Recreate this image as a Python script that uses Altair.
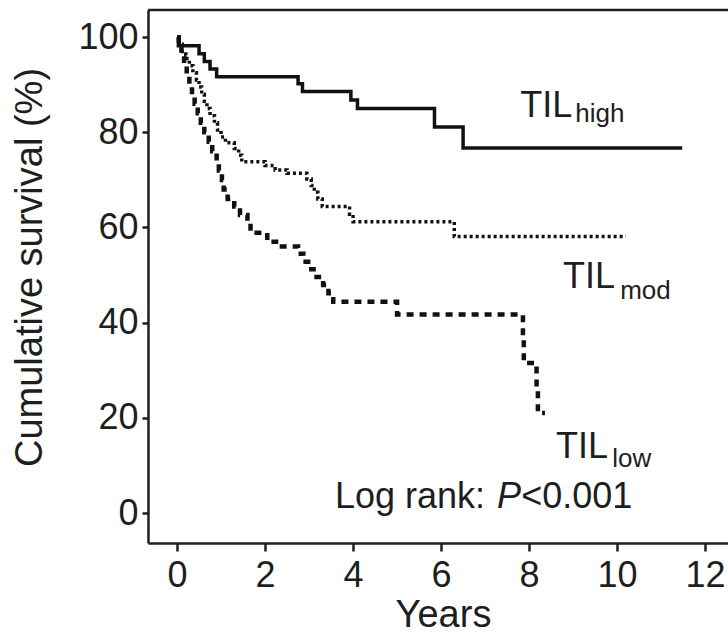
import altair as alt
import pandas as pd

# ---- data ----
high_t = [0, 0.03, 0.5, 0.62, 0.75, 0.9, 2.75, 2.85, 3.95, 4.1, 5.85, 6.5, 11.48]
high_s = [100, 98.2, 96.5, 94.9, 93.3, 91.7, 90.2, 88.6, 86.8, 85.0, 81.1, 76.7, 76.7]

mod_t = [0, 0.05, 0.12, 0.2, 0.28, 0.36, 0.44, 0.5, 0.56, 0.62, 0.68, 0.75, 0.85,
         0.92, 1.0, 1.1, 1.3, 1.4, 1.47, 2.0, 2.23, 2.5, 2.95, 3.05, 3.12, 3.2,
         3.3, 3.92, 4.0, 6.3, 10.2]
mod_s = [100, 98.5, 97.0, 95.5, 94.0, 92.5, 91.0, 89.5, 88.0, 86.5, 85.0, 83.5, 82.0,
         80.5, 79.0, 77.8, 76.6, 75.2, 73.8, 73.0, 72.1, 71.4, 70.2, 68.8, 67.4, 66.0,
         64.4, 62.8, 61.2, 58.1, 58.1]

low_t = [0, 0.04, 0.1, 0.16, 0.22, 0.28, 0.34, 0.4, 0.47, 0.54, 0.62, 0.72, 0.8,
         0.9, 0.95, 1.02, 1.06, 1.15, 1.3, 1.43, 1.6, 1.67, 2.05, 2.25, 2.75, 2.87,
         3.05, 3.17, 3.32, 3.44, 3.55, 5.0, 7.86, 7.88, 8.17, 8.2, 8.36]
low_s = [100, 98, 96, 94, 92, 90, 88, 86, 84, 82, 80, 78, 76,
         74, 72, 70, 68, 66, 64.4, 62.6, 60.9, 58.9, 57.0, 56.0, 54.5, 52.8,
         51.2, 49.6, 47.9, 46.2, 44.4, 41.7, 36.6, 31.5, 26.3, 21.0, 21.0]

x_ticks = [0, 2, 4, 6, 8, 10, 12]
y_ticks = [0, 20, 40, 60, 80, 100]

# annotations: text, x (years), y (%), size, style
ann_text = ["TIL", "high", "TIL", "mod", "TIL", "low", "Log rank: ", "P", "<0.001"]
ann_x = [7.8, 9.05, 8.77, 10.07, 8.61, 9.89, 3.59, 7.27, 7.82]
ann_y = [83.2, 82.1, 47.3, 45.0, 11.6, 9.7, 1.05, 1.05, 1.05]
ann_size = [36, 26, 36, 26, 36, 26, 36, 36, 36]
ann_style = ["normal", "normal", "normal", "normal", "normal", "normal", "normal", "italic", "normal"]

FONT = "Liberation Sans"
INK = "#1e1e1e"

def series(name, t, s):
    return pd.DataFrame({"group": name, "t": t, "s": s, "i": range(len(t))})

df = pd.concat([series("high", high_t, high_s),
                series("mod", mod_t, mod_s),
                series("low", low_t, low_s)], ignore_index=True)

xscale = alt.Scale(domain=[-0.66, 12.52], nice=False, zero=False)
yscale = alt.Scale(domain=[-6.3, 105.7], nice=False, zero=False)

X = alt.X("t:Q", scale=xscale,
          axis=alt.Axis(values=x_ticks, title="Years", titleX=295, titleY=83,
                        titleBaseline="alphabetic", titleAlign="center",
                        tickSize=8, labelPadding=7))
Y = alt.Y("s:Q", scale=yscale,
          axis=alt.Axis(values=y_ticks, title="Cumulative survival (%)",
                        titleX=-118, titleY=257, titleAngle=-90,
                        titleBaseline="middle", titleAlign="center",
                        tickSize=6, labelPadding=4))

base = alt.Chart(df)

def curve(name, dash, width):
    return base.transform_filter(alt.datum.group == name).mark_line(
        interpolate="step-after", color="#111111", strokeWidth=width,
        strokeDash=dash, strokeCap="butt"
    ).encode(x=X, y=Y, order="i:Q")

high = curve("high", [1, 0], 3.5)
mod = curve("mod", [3, 3], 3.5)
low = curve("low", [7, 6], 4.5)

ann = pd.DataFrame({"text": ann_text, "t": ann_x, "s": ann_y,
                    "size": ann_size, "style": ann_style})

def text_layer(style):
    sub = ann[ann["style"] == style]
    return alt.Chart(sub).mark_text(
        font=FONT, align="left", baseline="alphabetic", color=INK,
        fontStyle=style
    ).encode(
        x=alt.X("t:Q", scale=xscale),
        y=alt.Y("s:Q", scale=yscale),
        text="text:N",
        size=alt.Size("size:Q", scale=None, legend=None),
    )

# top frame line
top = alt.Chart(pd.DataFrame({"a": [0]})).mark_rule(
    color=INK, strokeWidth=2.5
).encode(x=alt.value(0), x2=alt.value(580), y=alt.value(0))

chart = alt.layer(high, mod, low, text_layer("normal"), text_layer("italic"), top).properties(
    width=580, height=533,
    autosize=alt.AutoSizeParams(type="none"),
    padding={"left": 148, "top": 10, "right": 0, "bottom": 90},
).configure_view(stroke=None).configure_axis(
    grid=False, labelFont=FONT, titleFont=FONT, labelFontSize=36,
    titleFontSize=38, titleFontWeight="normal", labelColor=INK, titleColor=INK,
    domainColor=INK, domainWidth=2.5, tickColor=INK, tickWidth=2.5,
)

chart.save("out.html", embed_options={"renderer": "svg", "actions": False})
